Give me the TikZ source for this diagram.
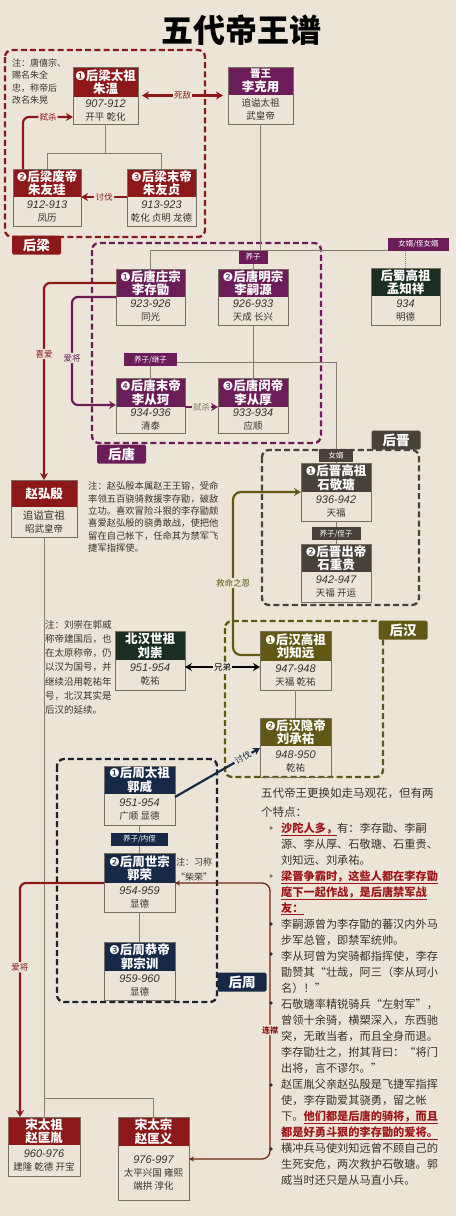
\documentclass[tikz,border=0pt]{standalone}
\usepackage{fontspec}
\setmainfont{Noto Sans CJK SC}
\newfontfamily\dv{DejaVu Sans}
\newfontfamily\lat{Liberation Sans}
\usetikzlibrary{arrows.meta}
\definecolor{paper}{RGB}{236,229,215}
\definecolor{lred}{RGB}{140,24,26}
\definecolor{ltang}{RGB}{108,28,88}
\definecolor{shu}{RGB}{26,46,34}
\definecolor{jin}{RGB}{72,66,58}
\definecolor{han}{RGB}{98,88,22}
\definecolor{zhou}{RGB}{22,42,72}
\definecolor{zhoub}{RGB}{30,34,44}
\definecolor{treeline}{RGB}{135,125,110}
\definecolor{boxc}{RGB}{120,110,96}
\definecolor{txt}{RGB}{55,50,45}
\definecolor{emph}{RGB}{158,22,26}
\definecolor{lianc}{RGB}{110,40,25}
\newcommand\yr[1]{{\lat\itshape\fontsize{11}{13}\selectfont #1}}
\newcommand\cn[1]{{\dv\mdseries\fontsize{12}{12}\selectfont #1}}
\newcommand\hl[1]{\textcolor{emph}{\bfseries\underline{#1}}}
\newcommand\emp[9]{%
  \node[ebox, minimum width=#4pt, minimum height=#5pt, anchor=north west] (#1) at (#2,#3) {};
  \fill[#7] (#1.north west) rectangle ++(#4,#6);
  \draw[boxline] (#1.north west) rectangle (#1.south east);
  \node[hdr] (#1-h) at ({#2+#4/2},{#3+#6/2}) {#8};
  \node[low] (#1-l) at ({#2+#4/2},{#3+#6+(#5-#6)/2}) {#9};
}
\begin{document}
\begin{tikzpicture}[x=1pt,y=-1pt,
  >={Stealth[length=7pt,width=8pt]},
  ebox/.style={inner sep=0pt, outer sep=0pt},
  boxline/.style={draw=boxc, line width=0.9pt},
  hdr/.style={text=white, font=\bfseries\fontsize{12.5}{13.5}\selectfont, align=center, inner sep=0pt},
  low/.style={text=txt, font=\fontsize{9.5}{13}\selectfont, align=center, inner sep=0pt},
  tree/.style={draw=treeline, line width=1pt},
  dashbox/.style={line width=2.3pt, dash pattern=on 6pt off 3.2pt, rounded corners=7pt},
  rel/.style={fill=#1, text=white, font=\fontsize{7.5}{8}\selectfont, inner sep=0pt, minimum height=13pt},
  reg/.style={fill=#1, text=white, font=\bfseries\fontsize{13.5}{14}\selectfont, inner sep=0pt, minimum width=49pt, minimum height=19pt, rounded corners=1.5pt},
  arr/.style={line width=2.2pt, ->},
  lbl/.style={fill=paper, inner sep=1.2pt, font=\fontsize{8.5}{9}\selectfont},
  note/.style={text=txt, align=left, inner sep=0pt, anchor=north west}]
\useasboundingbox (0,0) rectangle (456,1216);
\fill[paper] (0,0) rectangle (456,1216);

% title
\node[font=\bfseries\fontsize{32}{34}\selectfont, text=black] (title) at (241,30) {五代帝王谱};

% dynasty frames
\draw[dashbox, draw=lred] (5,50) rectangle (205,237);
\draw[dashbox, draw=ltang] (92,243) rectangle (321,443);
\draw[dashbox, draw=jin] (262,450) rectangle (419,605);
\draw[dashbox, draw=han] (225,621) rectangle (383,777);
\draw[dashbox, draw=zhoub] (57,759) rectangle (217,1002);

% emperors
\emp{lz1}{73}{67}{65}{57}{30}{lred}{\cn{❶}后梁太祖\\朱温}{\yr{907-912}\\开平\ 乾化}
\emp{jw}{228}{67}{65}{57}{28}{ltang}{\fontsize{10.5}{12.5}\selectfont 晋王\\李克用}{\fontsize{9.5}{13}\selectfont 追谥太祖\\武皇帝}
\emp{lz2}{13}{169}{68}{57}{28}{lred}{\cn{❷}后梁废帝\\朱友珪}{\yr{912-913}\\凤历}
\emp{lz3}{127}{169}{69}{57}{28}{lred}{\cn{❸}后梁末帝\\朱友贞}{\yr{913-923}\\乾化 贞明 龙德}
\emp{lt1}{116}{269}{69}{56}{28}{ltang}{\cn{❶}后唐庄宗\\李存勖}{\yr{923-926}\\同光}
\emp{lt2}{218}{269}{70}{56}{28}{ltang}{\cn{❷}后唐明宗\\李嗣源}{\yr{926-933}\\天成\ 长兴}
\emp{shu}{371}{268}{69}{57}{28}{shu}{后蜀高祖\\孟知祥}{\yr{934}\\明德}
\emp{lt4}{116}{378}{69}{55}{29}{ltang}{\cn{❹}后唐末帝\\李从珂}{\yr{934-936}\\清泰}
\emp{lt3}{218}{378}{70}{55}{29}{ltang}{\cn{❸}后唐闵帝\\李从厚}{\yr{933-934}\\应顺}
\emp{zhb}{11}{480}{66}{57}{27}{lred}{赵弘殷}{\fontsize{10.5}{14}\selectfont 追谥宣祖\\昭武皇帝}
\emp{lj1}{301}{463}{70}{58}{29}{jin}{\cn{❶}后晋高祖\\石敬瑭}{\yr{936-942}\\天福}
\emp{lj2}{301}{544}{70}{58}{28}{jin}{\cn{❷}后晋出帝\\石重贵}{\yr{942-947}\\天福\ 开运}
\emp{bh}{115}{631}{70}{59}{29}{shu}{北汉世祖\\刘崇}{\yr{951-954}\\乾祐}
\emp{lh1}{260}{631}{71}{59}{30}{han}{\cn{❶}后汉高祖\\刘知远}{\yr{947-948}\\天福\ 乾祐}
\emp{lh2}{260}{718}{71}{59}{28}{han}{\cn{❷}后汉隐帝\\刘承祐}{\yr{948-950}\\乾祐}
\emp{gw}{104}{766}{71}{59}{28}{zhou}{\cn{❶}后周太祖\\郭威}{\yr{951-954}\\广顺\ 显德}
\emp{gr}{104}{853}{71}{59}{30}{zhou}{\cn{❷}后周世宗\\郭荣}{\yr{954-959}\\显德}
\emp{gx}{104}{942}{71}{58}{29}{zhou}{\cn{❸}后周恭帝\\郭宗训}{\yr{959-960}\\显德}
\emp{st1}{8}{1117}{72}{59}{28}{lred}{宋太祖\\赵匡胤}{\yr{960-976}\\建隆 乾德 开宝}
\emp{sz}{118}{1117}{71}{83}{29}{lred}{宋太宗\\赵匡义}{\yr{976-997}\\太平兴国 雍熙\\端拱 淳化}

% relation tags
\node[rel=ltang, minimum width=29pt] (yz1) at (253,257) {养子};
\node[rel=ltang, minimum width=61pt] (nx) at (418.5,244) {女婿/侄女婿};
\node[rel=ltang, minimum width=53pt] (yz2) at (150.5,359.5) {养子/继子};
\node[rel=jin, minimum width=34pt] (nxu) at (336,455.5) {女婿};
\node[rel=jin, minimum width=49pt] (yz3) at (336,533.5) {养子/侄子};
\node[rel=zhou, minimum width=57pt] (yz4) at (139.5,839) {养子/内侄};

% family lines
\draw[tree] (lz1.south) -- (lz1.south |- 0,153);
\draw[tree] (lz2.north) |- (lz3.north |- 0,153) -- (lz3.north);
\draw[tree] (jw.south) -- (jw.south |- 0,250);
\draw[tree] (lt1.north) |- (nx.west |- 0,250);
\draw[tree] (yz1.south) -- (yz1.south |- lt2.north);
\draw[tree, densely dotted] (shu.north |- nx.south) -- (shu.north);
\draw[tree] (lt2.south) -- (lt3.north);
\draw[tree] (yz2.east |- 0,362) -| (nxu.north);
\draw[tree] (yz2.south) -- (lt4.north);
\draw[tree] (nxu.south) -- (lj1.north);
\draw[tree] (lj1.south) -- (yz3.north);
\draw[tree] (yz3.south) -- (lj2.north);
\draw[tree] (lh1.south) -- (lh2.north);
\draw[tree] (gw.south) -- (yz4.north);
\draw[tree] (yz4.south) -- (gr.north);
\draw[tree] (gr.south) -- (gx.north);
\draw[tree] (zhb.south) -- (st1.north);
\draw[tree] (zhb.south |- 0,1098) -| (sz.north);

% relation arrows
\draw[arr, draw=lred, <->] ([xshift=4pt]lz1.east) -- node[lbl, text=lred] (l-sd) {死敌} ([xshift=-5pt]jw.west);
\draw[arr, draw=lred, rounded corners=6pt] (lz2.north -| 23,0) |- node[lbl, text=lred, pos=0.75] (l-ss1) {弑杀} (lz1.west |- 0,117);
\draw[arr, draw=lred] (lz3.west |- 0,197) -- node[lbl, text=lred] (l-tf1) {讨伐} (lz2.east |- 0,197);
\draw[arr, draw=lred, rounded corners=6pt] (lt1.west |- 0,283) -| node[lbl, text=lred, pos=0.68] (l-xa) {喜爱} (zhb.north);
\draw[arr, draw=ltang, rounded corners=6pt] (lt1.west |- 0,297) -| (72,358) node[lbl, text=ltang] (l-aj1) {爱将} |- (lt4.west |- 0,405);
\draw[arr, draw=ltang] (lt4.east |- 0,407) -- node[lbl, text=treeline] (l-ss2) {弑杀} (lt3.west |- 0,407);
\draw[arr, draw=han, rounded corners=8pt] (lh1.west |- 0,655) -| (233,583) node[lbl, text=han] (l-jm) {救命之恩} |- (lj1.west |- 0,492);
\draw[arr, draw=black, <->] (bh.east |- 0,667) -- node[lbl] (l-xd) {兄弟} (lh1.west |- 0,667);
\draw[arr, draw=zhou] (gw.east |- 0,797) -- node[lbl, text=zhou, sloped, pos=0.8] (l-tf2) {讨伐} (lh2.west |- 0,748);
\draw[arr, draw=lred, rounded corners=6pt] (gr.west |- 0,883) -| node[lbl, text=lred, pos=0.68] (l-aj2) {爱将} (st1.north -| 20,0);
\draw[draw=lianc, line width=1.3pt, {Stealth[length=5pt,width=5pt]}-{Stealth[length=5pt,width=5pt]}, rounded corners=8pt] (gr.east |- 0,883) -| (270,1030) node[lbl, text=lred, font=\bfseries\fontsize{8}{9}\selectfont] (l-lj) {连襟} |- (sz.east |- 0,1159);

% dynasty labels
\node[reg=lred] (g-liang) at (36.5,245) {后梁};
\node[reg=ltang] (g-tang) at (121.5,454) {后唐};
\node[reg=jin] (g-jin) at (396,440) {后晋};
\node[reg=han] (g-han) at (403,630) {后汉};
\node[reg=zhou] (g-zhou) at (242,982) {后周};

% notes
\node[note, font=\fontsize{9}{12.5}\selectfont] (n1) at (12,58.5) {注：唐僖宗、\\赐名朱全\\忠，称帝后\\改名朱晃};
\node[note, font=\fontsize{9.3}{12.4}\selectfont] (n2) at (88,481.5) {注：赵弘殷本属赵王王镕，受命\\率领五百骁骑救援李存勖，破敌\\立功。喜欢冒险斗狠的李存勖颇\\喜爱赵弘殷的骁勇敢战，使把他\\留在自己帐下，任命其为禁军飞\\捷军指挥使。};
\node[note, font=\fontsize{9.5}{14.2}\selectfont] (n3) at (45,620) {注：刘崇在郭威\\称帝建国后，也\\在太原称帝，仍\\以汉为国号，并\\继续沿用乾祐年\\号，北汉其实是\\后汉的延续。};
\node[note, font=\fontsize{9}{15}\selectfont] (n4) at (176,857.5) {注：习称\\“柴荣”};

% right column text
\node[note, font=\fontsize{11.5}{19}\selectfont] (r1) at (261,787.3) {五代帝王更换如走马观花，但有两\\个特点：};
\node[note, font=\fontsize{11.2}{16}\selectfont] (r2) at (281,822.3) {\hl{沙陀人多，}有：李存勖、李嗣\\源、李从厚、石敬瑭、石重贵、\\刘知远、刘承祐。\\\hl{梁晋争霸时，这些人都在李存勖}\\\hl{麾下一起作战，是后唐禁军战}\\\hl{友：}\\李嗣源曾为李存勖的蕃汉内外马\\步军总管，即禁军统帅。\\李从珂曾为突骑都指挥使，李存\\勖赞其“壮哉，阿三（李从珂小\\名）！”\\石敬瑭率精锐骑兵“左射军”，\\曾领十余骑，横槊深入，东西驰\\突，无敢当者，而且全身而退。\\李存勖壮之，拊其背曰：“将门\\出将，言不谬尔。”\\赵匡胤父亲赵弘殷是飞捷军指挥\\使，李存勖爱其骁勇，留之帐\\下。\hl{他们都是后唐的骑将，而且}\\\hl{都是好勇斗狠的李存勖的爱将。}\\横冲兵马使刘知远曾不顾自己的\\生死安危，两次救护石敬瑭。郭\\威当时还只是从马直小兵。};
\foreach \yy/\cc in {828/treeline,876/treeline,924/txt,954/txt,1003/txt,1085/txt,1149/txt}
  \fill[\cc] (271,\yy) circle (1.9pt);
\end{tikzpicture}
\end{document}
